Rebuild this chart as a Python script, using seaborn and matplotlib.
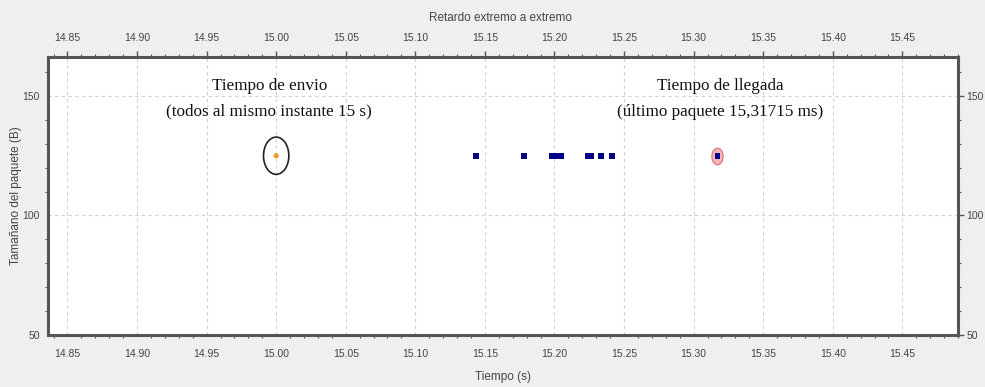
import numpy as np
import pandas as pd
import matplotlib
matplotlib.use("Agg")
import matplotlib.pyplot as plt
import seaborn as sns
from matplotlib.path import Path
from matplotlib.ticker import MultipleLocator, FixedLocator

# ---- data ----
send_times = [15.000]
send_sizes = [125]
arrival_times = [15.1435, 15.1783, 15.1984, 15.2020, 15.2045,
                 15.2243, 15.2260, 15.2337, 15.2414, 15.31715]
arrival_sizes = [125] * len(arrival_times)
x_ticks = [14.85, 14.90, 14.95, 15.00, 15.05, 15.10, 15.15,
           15.20, 15.25, 15.30, 15.35, 15.40, 15.45]
y_ticks = [50, 100, 150]
title_top = "Retardo extremo a extremo"
xlabel = "Tiempo (s)"
ylabel = "Tamañano del paquete (B)"
note_send = "Tiempo de envio\n(todos al mismo instante 15 s)"
note_arrival = "Tiempo de llegada\n(último paquete 15,31715 ms)"

send_df = pd.DataFrame({"t": send_times, "size": send_sizes})
arr_df = pd.DataFrame({"t": arrival_times, "size": arrival_sizes})

sns.set_theme(style="white")
plt.rcParams['font.family'] = ['Liberation Sans', 'DejaVu Sans']

bg = "#efefef"
fig = plt.figure(figsize=(9.85, 3.87), dpi=100, facecolor=bg)
ax = fig.add_axes([0.0487, 0.1344, 0.9239, 0.7183])
ax.set_facecolor("white")

# ellipse marker
circ = Path.unit_circle()
ell = Path(circ.vertices * np.array([0.68, 1.0]), circ.codes)

# circle around send point
sns.scatterplot(data=send_df, x="t", y="size", ax=ax, marker=ell, s=720,
                facecolor="none", edgecolor="#222222", linewidth=1.2, zorder=3)
sns.scatterplot(data=send_df, x="t", y="size", ax=ax, marker="o", s=14,
                color="#f39a1e", edgecolor="none", zorder=4)

# halo around last arrival
last_df = arr_df.iloc[[-1]]
sns.scatterplot(data=last_df, x="t", y="size", ax=ax, marker=ell, s=140,
                color="#f7b5b5", edgecolor="#e87a7a", linewidth=1.0, zorder=3)
sns.scatterplot(data=arr_df, x="t", y="size", ax=ax, marker="s", s=18,
                color="#00008b", edgecolor="none", zorder=4)

ax.set_xlim(14.836, 15.490)
ax.set_ylim(50, 166.3)
ax.xaxis.set_major_locator(FixedLocator(x_ticks))
ax.xaxis.set_minor_locator(MultipleLocator(0.01))
ax.yaxis.set_major_locator(FixedLocator(y_ticks))
ax.yaxis.set_minor_locator(MultipleLocator(10))
ax.set_xticklabels([f"{v:.2f}" for v in x_ticks])
ax.set_yticklabels([str(v) for v in y_ticks])

ax.grid(True, which="major", color="#d2d2d2", linestyle=(0, (3, 3)), linewidth=0.8)
ax.set_axisbelow(True)

for s in ax.spines.values():
    s.set_color("#555555")
    s.set_linewidth(2.2)

tick_col = "#444444"
ax.tick_params(axis="both", which="major", direction="out", length=4, width=1,
               color="#555555", labelsize=7.5, labelcolor=tick_col,
               top=True, right=True, labeltop=True, labelright=True, pad=2)
ax.tick_params(axis="x", which="major", pad=6)
ax.tick_params(axis="both", which="minor", direction="out", length=2.5, width=0.8,
               color="#555555", top=True, right=True, bottom=True, left=True)

ax.set_xlabel(xlabel, fontsize=8.5, color=tick_col, labelpad=9)
ax.set_ylabel(ylabel, fontsize=8.5, color=tick_col, labelpad=0)
fig.text(0.508, 0.953, title_top, ha="center", va="center", fontsize=8.5, color=tick_col)

serif = ["Liberation Serif", "DejaVu Serif"]
ax.text(send_times[0] - 0.005, 148.8, note_send, ha="center", va="center",
        fontsize=12.3, family=serif, color="#111111", linespacing=1.8)
ax.text(arrival_times[-1] + 0.002, 148.8, note_arrival, ha="center", va="center",
        fontsize=12.3, family=serif, color="#111111", linespacing=1.8)

fig.savefig("out.png", dpi=100, facecolor=bg)
